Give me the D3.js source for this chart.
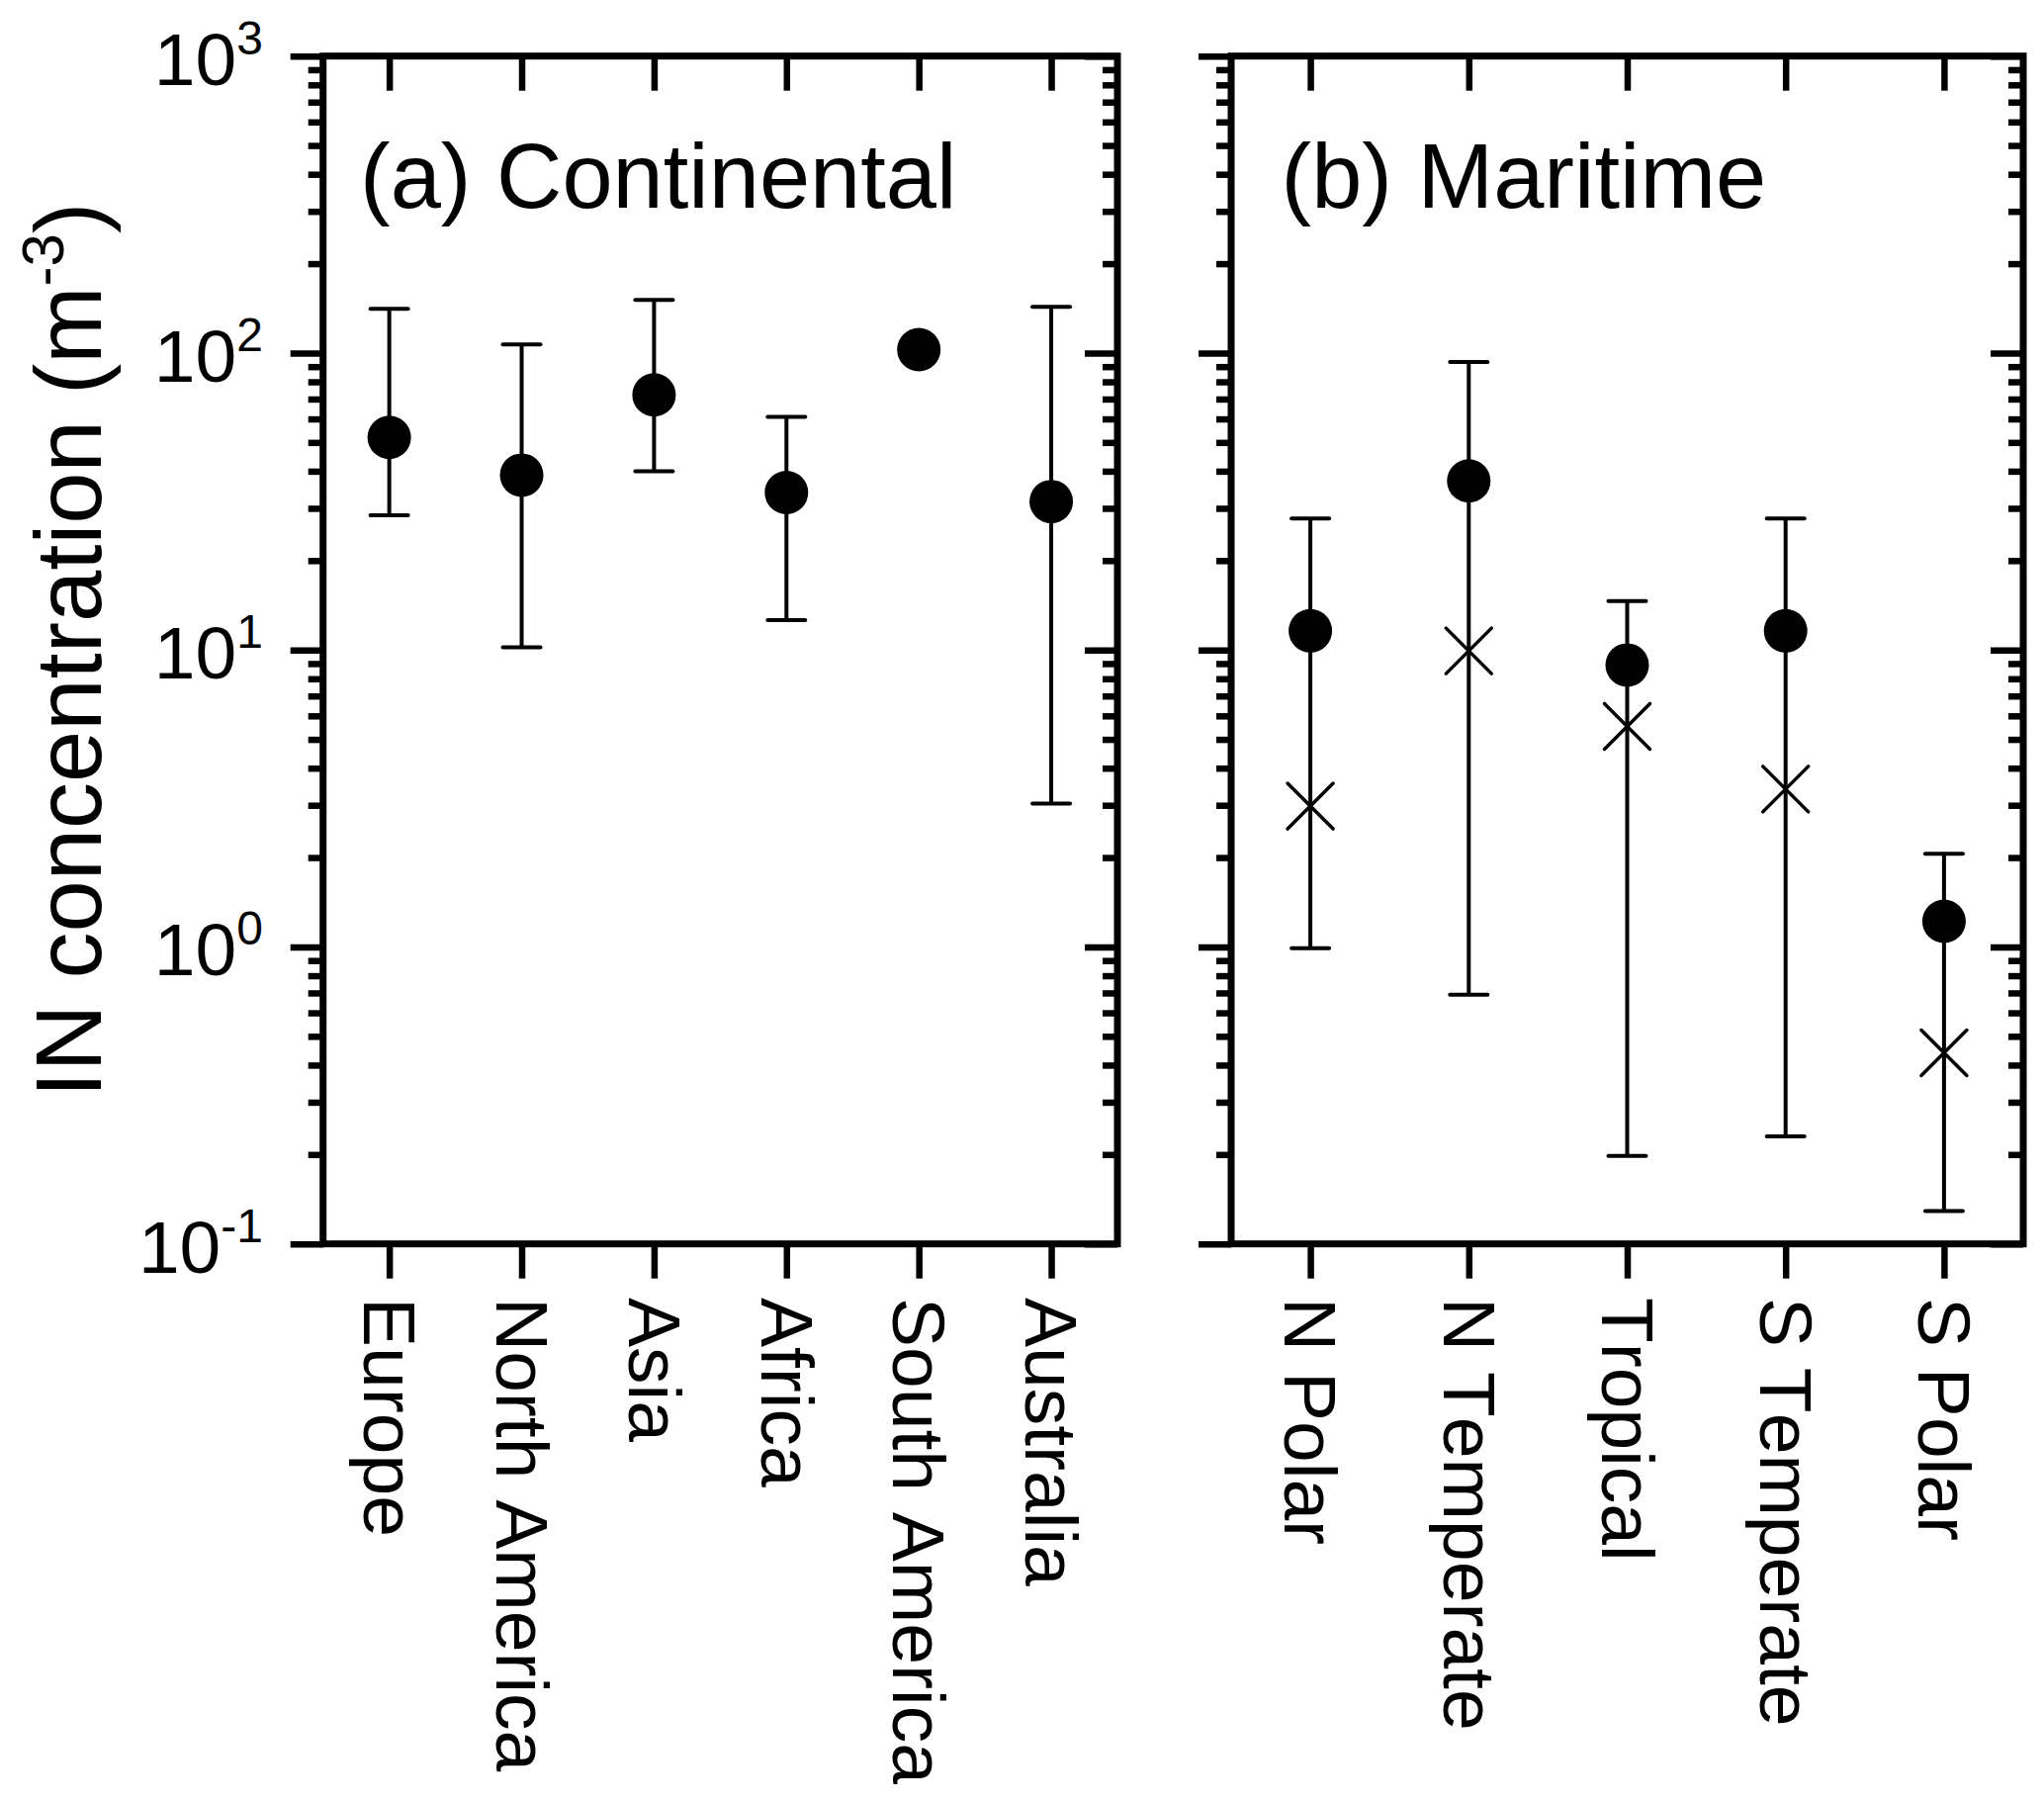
<!DOCTYPE html>
<head>
    <meta charset="utf-8">
    <script src="https://d3js.org/d3.v7.min.js"></script>
    <style>
        *{
            margin:0;
            padding:0;
        }
        body{
            background: #fff;
        }
        svg{
            display: block;
        }
        text{
            font-family: 'Liberation Sans', Arial, sans-serif;
            font-kerning: none;
            fill: #000;
        }
    </style>
</head>

<body>
<svg id="chart"></svg>

<script>
    // panel (a) continental
    const continents = ["Europe", "North America", "Asia", "Africa", "South America", "Australia"];
    const contMean = [52, 38.8, 72.3, 33.9, 102.7, 31.6];
    const contHigh = [141, 107, 151, 61, null, 143];
    const contLow = [28.4, 10.2, 40, 12.6, null, 3.04];

    // panel (b) maritime
    const zones = ["N Polar", "N Temperate", "Tropical", "S Temperate", "S Polar"];
    const zoneMean = [11.6, 37.1, 8.9, 11.6, 1.22];
    const zoneMedian = [2.98, 9.93, 5.53, 3.4, 0.44];
    const zoneHigh = [27.7, 93.3, 14.6, 27.7, 2.06];
    const zoneLow = [0.99, 0.69, 0.198, 0.23, 0.129];

    const majorTicks = [0.1, 1, 10, 100, 1000];
    const minorTicks = [];
    [-1, 0, 1, 2].forEach(p => {
        for (let m = 2; m <= 9; m++) minorTicks.push(m * Math.pow(10, p));
    });

    const width = 2067, height = 1820;
    const yTop = 56.7, yBottom = 1257.7;
    const font = "'Liberation Sans', Arial, sans-serif";

    const svg = d3.select("#chart")
        .attr("width", width)
        .attr("height", height);

    svg.append("rect")
        .attr("width", width)
        .attr("height", height)
        .attr("fill", "#fff");

    const y = d3.scaleLog()
        .domain([0.1, 1000])
        .range([yBottom, yTop]);

    // draws one framed panel with its axes
    function panel(cats, x0, x1, withLabels) {
        const x = d3.scalePoint()
            .domain(cats)
            .range([x0, x1])
            .padding(0.5);

        const g = svg.append("g");

        // left: ticks outside
        let left = g.append("g")
            .attr("transform", `translate(${x0},0)`)
            .call(d3.axisLeft(y).tickValues(majorTicks).tickSize(33).tickSizeOuter(0));
        g.append("g")
            .attr("transform", `translate(${x0},0)`)
            .call(d3.axisLeft(y).tickValues(minorTicks).tickSize(15).tickSizeOuter(0).tickFormat(""));

        if (withLabels) {
            left.selectAll(".tick text")
                .attr("font-family", font)
                .attr("font-size", 75)
                .attr("x", -60.7)
                .attr("y", 28.5)
                .attr("dy", null)
                .each(function (d) {
                    const e = Math.round(Math.log10(d));
                    const t = d3.select(this);
                    t.text(null);
                    t.append("tspan").text("10");
                    t.append("tspan").attr("font-size", 48).attr("dy", -31).text(e);
                });
        } else {
            left.selectAll(".tick text").remove();
        }

        // right: ticks inside
        g.append("g")
            .attr("transform", `translate(${x1},0)`)
            .call(d3.axisLeft(y).tickValues(majorTicks).tickSize(33).tickSizeOuter(0).tickFormat(""));
        g.append("g")
            .attr("transform", `translate(${x1},0)`)
            .call(d3.axisLeft(y).tickValues(minorTicks).tickSize(15).tickSizeOuter(0).tickFormat(""));

        // top: ticks inside
        g.append("g")
            .attr("transform", `translate(0,${yTop})`)
            .call(d3.axisBottom(x).tickSize(35).tickSizeOuter(0).tickFormat(""));

        // bottom: ticks outside, rotated labels
        const bot = g.append("g")
            .attr("transform", `translate(0,${yBottom})`)
            .call(d3.axisBottom(x).tickSize(35).tickSizeOuter(0));
        bot.selectAll(".tick text")
            .attr("font-family", font)
            .attr("font-size", 75)
            .attr("transform", "rotate(90)")
            .attr("text-anchor", "start")
            .attr("x", 54.3)
            .attr("y", 0)
            .attr("dy", "0.35em");

        g.selectAll(".domain").remove();
        g.selectAll(".tick line")
            .attr("stroke", "#000")
            .attr("stroke-width", 6.5);

        g.append("rect")
            .attr("x", x0)
            .attr("y", yTop)
            .attr("width", x1 - x0)
            .attr("height", yBottom - yTop)
            .attr("fill", "none")
            .attr("stroke", "#000")
            .attr("stroke-width", 7);

        return {g: g, x: x};
    }

    function errorBars(g, x, cats, low, high) {
        const rows = cats.map((c, i) => ({c: c, lo: low[i], hi: high[i]}))
            .filter(d => d.lo != null);
        g.selectAll("line.bar").data(rows).join("line")
            .attr("class", "bar")
            .attr("x1", d => x(d.c)).attr("x2", d => x(d.c))
            .attr("y1", d => y(d.lo)).attr("y2", d => y(d.hi))
            .attr("stroke", "#000").attr("stroke-width", 4);
        const caps = [];
        rows.forEach(d => { caps.push({c: d.c, v: d.lo}); caps.push({c: d.c, v: d.hi}); });
        g.selectAll("line.cap").data(caps).join("line")
            .attr("class", "cap")
            .attr("x1", d => x(d.c) - 19).attr("x2", d => x(d.c) + 19)
            .attr("y1", d => y(d.v)).attr("y2", d => y(d.v))
            .attr("stroke", "#000").attr("stroke-width", 4)
            .attr("stroke-linecap", "round");
    }

    function dots(g, x, cats, vals) {
        g.selectAll("circle.mean").data(cats).join("circle")
            .attr("class", "mean")
            .attr("cx", d => x(d))
            .attr("cy", (d, i) => y(vals[i]))
            .attr("r", 22)
            .attr("fill", "#000");
    }

    // panel (a)
    const pa = panel(continents, 326.7, 1130, true);
    errorBars(pa.g, pa.x, continents, contLow, contHigh);
    dots(pa.g, pa.x, continents, contMean);

    // panel (b)
    const pb = panel(zones, 1245, 2046, false);
    errorBars(pb.g, pb.x, zones, zoneLow, zoneHigh);
    dots(pb.g, pb.x, zones, zoneMean);
    const s = 23;
    pb.g.selectAll("path.median").data(zones).join("path")
        .attr("class", "median")
        .attr("d", (d, i) => {
            const cx = pb.x(d), cy = y(zoneMedian[i]);
            return `M${cx - s},${cy - s}L${cx + s},${cy + s}M${cx - s},${cy + s}L${cx + s},${cy - s}`;
        })
        .attr("fill", "none")
        .attr("stroke", "#000")
        .attr("stroke-width", 3.5)
        .attr("stroke-linecap", "round");

    // panel titles
    svg.append("text")
        .attr("x", 364)
        .attr("y", 210)
        .attr("font-size", 92)
        .text("(a) Continental");
    svg.append("text")
        .attr("x", 1295.5)
        .attr("y", 210)
        .attr("font-size", 92)
        .text("(b) Maritime");

    // y axis title
    const yt = svg.append("text")
        .attr("transform", `translate(102,${(yTop + yBottom) / 2}) rotate(-90)`)
        .attr("text-anchor", "middle")
        .attr("font-size", 94);
    yt.append("tspan").text("IN concentration (m");
    yt.append("tspan").attr("font-size", 60).attr("dy", -38).text("-3");
    yt.append("tspan").attr("dy", 38).text(")");
</script>
</body>
</html>
